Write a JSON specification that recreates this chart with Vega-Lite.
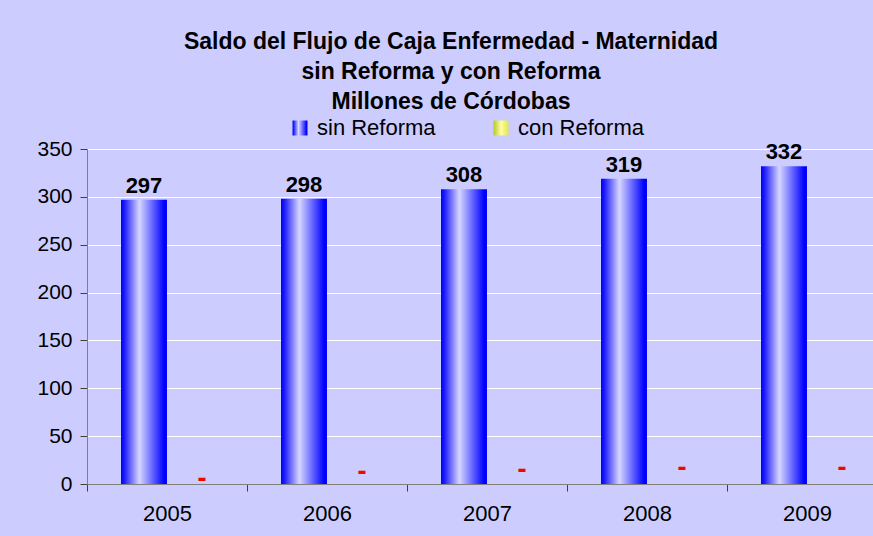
{
  "$schema": "https://vega.github.io/schema/vega-lite/v6.json",
  "width": 786,
  "height": 335,
  "autosize": {"type": "none"},
  "padding": {"left": 87, "top": 149, "right": 0, "bottom": 52},
  "background": "#ccccff",
  "config": {"view": {"stroke": null}, "font": "Liberation Sans"},
  "title": {
    "text": ["Saldo del Flujo de Caja Enfermedad - Maternidad", "sin Reforma y con Reforma", "Millones de Córdobas"],
    "fontSize": 23,
    "fontWeight": "bold",
    "font": "Liberation Sans",
    "color": "#000000",
    "lineHeight": 30,
    "anchor": "middle",
    "frame": "group",
    "dx": -29,
    "offset": 3
  },
  "data": {
    "values": [
      {"anio": "2005", "serie": "sin Reforma", "valor": 297, "etiqueta": "297"},
      {"anio": "2006", "serie": "sin Reforma", "valor": 298, "etiqueta": "298"},
      {"anio": "2007", "serie": "sin Reforma", "valor": 308, "etiqueta": "308"},
      {"anio": "2008", "serie": "sin Reforma", "valor": 319, "etiqueta": "319"},
      {"anio": "2009", "serie": "sin Reforma", "valor": 332, "etiqueta": "332"},
      {"anio": "2005", "serie": "con Reforma", "valor": 5.5, "etiqueta": "-"},
      {"anio": "2006", "serie": "con Reforma", "valor": 12.2, "etiqueta": "-"},
      {"anio": "2007", "serie": "con Reforma", "valor": 14.9, "etiqueta": "-"},
      {"anio": "2008", "serie": "con Reforma", "valor": 17, "etiqueta": "-"},
      {"anio": "2009", "serie": "con Reforma", "valor": 17, "etiqueta": "-"}
    ]
  },
  "encoding": {
    "x": {
      "field": "anio",
      "type": "nominal",
      "scale": {"range": [0, 800], "paddingInner": 0, "paddingOuter": 0},
      "axis": {
        "title": null,
        "labelAngle": 0,
        "labelFontSize": 22,
        "labelColor": "#000000",
        "labelPadding": 12,
        "domainColor": "#808080",
        "tickColor": "#404040",
        "tickSize": 7,
        "tickBand": "extent",
        "grid": false
      }
    },
    "xOffset": {
      "field": "serie",
      "type": "nominal",
      "scale": {"domain": ["sin Reforma", "con Reforma"], "paddingInner": 0.207, "paddingOuter": 0.483, "align": 0.607}
    },
    "y": {
      "field": "valor",
      "type": "quantitative",
      "scale": {"domain": [0, 350], "nice": false},
      "axis": {
        "title": null,
        "values": [0, 50, 100, 150, 200, 250, 300, 350],
        "labelFontSize": 21,
        "labelColor": "#000000",
        "labelPadding": 8,
        "domainColor": "#808080",
        "tickColor": "#404040",
        "tickSize": 7,
        "grid": true,
        "gridColor": "#ffffff",
        "gridWidth": 1.2,
        "gridOpacity": 1
      }
    }
  },
  "layer": [
    {
      "transform": [{"filter": "datum.serie === 'sin Reforma'"}],
      "mark": {"type": "bar"},
      "encoding": {
        "color": {
          "field": "serie",
          "type": "nominal",
          "scale": {
            "domain": ["sin Reforma", "con Reforma"],
            "range": [
              {"expr": "{gradient: 'linear', x1: 0, x2: 1, y1: 0, y2: 0, stops: [{offset: 0, color: '#0000ff'}, {offset: 0.06, color: '#1414ff'}, {offset: 0.4, color: '#d6d6ff'}, {offset: 0.94, color: '#0000ff'}, {offset: 1, color: '#0000ff'}]}"},
              {"expr": "{gradient: 'linear', x1: 0, x2: 1, y1: 0, y2: 0, stops: [{offset: 0, color: '#b4c828'}, {offset: 0.5, color: '#ffffa0'}, {offset: 1, color: '#e4e450'}]}"}
            ]
          },
          "legend": {
            "title": null,
            "orient": "none",
            "legendX": 202,
            "legendY": -32,
            "direction": "horizontal",
            "padding": 0,
            "labelFontSize": 22,
            "labelColor": "#000000",
            "labelOffset": 6,
            "columnPadding": 54,
            "symbolType": "square",
            "symbolSize": 225,
            "symbolStrokeWidth": 0,
            "symbolOpacity": 1
          }
        }
      }
    },
    {
      "transform": [{"filter": "datum.serie === 'sin Reforma'"}],
      "mark": {"type": "text", "fontSize": 22, "fontWeight": "bold", "baseline": "bottom", "dy": -2, "color": "#000000"},
      "encoding": {"text": {"field": "etiqueta"}}
    },
    {
      "transform": [{"filter": "datum.serie === 'con Reforma'"}],
      "mark": {"type": "text", "fontSize": 23, "fontWeight": "bold", "font": "DejaVu Sans", "baseline": "middle", "color": "#ff0000"},
      "encoding": {"text": {"field": "etiqueta"}}
    }
  ]
}
